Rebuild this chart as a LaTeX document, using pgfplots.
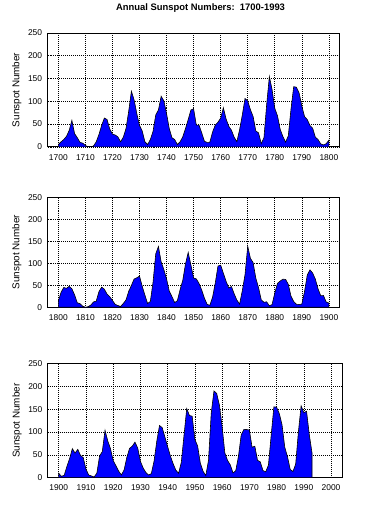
\documentclass[border=0pt]{standalone}
\usepackage{pgfplots}
\pgfplotsset{compat=1.18}
\usepackage{pgfplotstable}
\usepackage{fontspec}
\setmainfont{Liberation Sans}

% yearly sunspot numbers, split by century
\pgfplotstableread{
year ssn
1700 5.0
1701 11.0
1702 16.0
1703 23.0
1704 36.0
1705 58.0
1706 29.0
1707 20.0
1708 10.0
1709 8.0
1710 3.0
1711 0.0
1712 0.0
1713 2.0
1714 11.0
1715 27.0
1716 47.0
1717 63.0
1718 60.0
1719 39.0
1720 28.0
1721 26.0
1722 22.0
1723 11.0
1724 21.0
1725 40.0
1726 78.0
1727 122.0
1728 103.0
1729 73.0
1730 47.0
1731 35.0
1732 11.0
1733 5.0
1734 16.0
1735 34.0
1736 70.0
1737 81.0
1738 111.0
1739 101.0
1740 73.0
1741 40.0
1742 20.0
1743 16.0
1744 5.0
1745 11.0
1746 22.0
1747 40.0
1748 60.0
1749 80.9
1750 83.4
1751 47.7
1752 47.8
1753 30.7
1754 12.2
1755 9.6
1756 10.2
1757 32.4
1758 47.6
1759 54.0
1760 62.9
1761 85.9
1762 61.2
1763 45.1
1764 36.4
1765 20.9
1766 11.4
1767 37.8
1768 69.8
1769 106.1
1770 100.8
1771 81.6
1772 66.5
1773 34.8
1774 30.6
1775 7.0
1776 19.8
1777 92.5
1778 154.4
1779 125.9
1780 84.8
1781 68.1
1782 38.5
1783 22.8
1784 10.2
1785 24.1
1786 82.9
1787 132.0
1788 130.9
1789 118.1
1790 89.9
1791 66.6
1792 60.0
1793 46.9
1794 41.0
1795 21.3
1796 16.0
1797 6.4
1798 4.1
1799 6.8
1800 14.5
}\sunA

\pgfplotstableread{
year ssn
1800 14.5
1801 34.0
1802 45.0
1803 43.1
1804 47.5
1805 42.2
1806 28.1
1807 10.1
1808 8.1
1809 2.5
1810 0.0
1811 1.4
1812 5.0
1813 12.2
1814 13.9
1815 35.4
1816 45.8
1817 41.1
1818 30.1
1819 23.9
1820 15.6
1821 6.6
1822 4.0
1823 1.8
1824 8.5
1825 16.6
1826 36.3
1827 49.6
1828 64.2
1829 67.0
1830 70.9
1831 47.8
1832 27.5
1833 8.5
1834 13.2
1835 56.9
1836 121.5
1837 138.3
1838 103.2
1839 85.7
1840 64.6
1841 36.7
1842 24.2
1843 10.7
1844 15.0
1845 40.1
1846 61.5
1847 98.5
1848 124.7
1849 96.3
1850 66.6
1851 64.5
1852 54.1
1853 39.0
1854 20.6
1855 6.7
1856 4.3
1857 22.7
1858 54.8
1859 93.8
1860 95.8
1861 77.2
1862 59.1
1863 44.0
1864 47.0
1865 30.5
1866 16.3
1867 7.3
1868 37.6
1869 74.0
1870 139.0
1871 111.2
1872 101.6
1873 66.2
1874 44.7
1875 17.0
1876 11.3
1877 12.4
1878 3.4
1879 6.0
1880 32.3
1881 54.3
1882 59.7
1883 63.7
1884 63.5
1885 52.2
1886 25.4
1887 13.1
1888 6.8
1889 6.3
1890 7.1
1891 35.6
1892 73.0
1893 85.1
1894 78.0
1895 64.0
1896 41.8
1897 26.2
1898 26.7
1899 12.1
1900 9.5
}\sunB

\pgfplotstableread{
year ssn
1900 9.5
1901 2.7
1902 5.0
1903 24.4
1904 42.0
1905 63.5
1906 53.8
1907 62.0
1908 48.5
1909 43.9
1910 18.6
1911 5.7
1912 3.6
1913 1.4
1914 9.6
1915 47.4
1916 57.1
1917 103.9
1918 80.6
1919 63.6
1920 37.6
1921 26.1
1922 14.2
1923 5.8
1924 16.7
1925 44.3
1926 63.9
1927 69.0
1928 77.8
1929 64.9
1930 35.7
1931 21.2
1932 11.1
1933 5.7
1934 8.7
1935 36.1
1936 79.7
1937 114.4
1938 109.6
1939 88.8
1940 67.8
1941 47.5
1942 30.6
1943 16.3
1944 9.6
1945 33.2
1946 92.6
1947 151.6
1948 136.3
1949 134.7
1950 83.9
1951 69.4
1952 31.5
1953 13.9
1954 4.4
1955 38.0
1956 141.7
1957 190.2
1958 184.8
1959 159.0
1960 112.3
1961 53.9
1962 37.6
1963 27.9
1964 10.2
1965 15.1
1966 47.0
1967 93.8
1968 105.9
1969 105.5
1970 104.5
1971 66.6
1972 68.9
1973 38.0
1974 34.5
1975 15.5
1976 12.6
1977 27.5
1978 92.5
1979 155.4
1980 154.6
1981 140.4
1982 115.9
1983 66.6
1984 45.9
1985 17.9
1986 13.4
1987 29.4
1988 100.2
1989 157.6
1990 142.6
1991 145.7
1992 94.3
1993 54.6
}\sunC

\pgfplotsset{
  sun/.style={
    scale only axis,
    width=295pt, height=115pt,
    anchor=south west,
    ymin=0, ymax=250,
    ytick={0,50,...,250},
    xtick distance=10,
    major tick length=0pt,
    grid=major,
    major grid style={black, line width=0.6pt, dash pattern=on 0.7pt off 1.3pt},
    axis line style={black, line width=0.8pt},
    ticklabel style={font=\fontsize{8.5}{10}\selectfont},
    /pgf/number format/assume math mode=true,
    /pgf/number format/1000 sep={},
    yticklabel style={xshift=-2pt},
    xticklabel style={yshift=-4pt},
    ylabel={Sunspot Number},
    ylabel style={font=\fontsize{10}{12}\selectfont, at={(axis description cs:0,0.5)}, anchor=center, yshift=31pt},
  },
  sunarea/.style={fill=blue, draw=black, line width=0.6pt},
}

\begin{document}
\begin{tikzpicture}
\path (0pt,0pt) rectangle (382pt,508pt);

\begin{axis}[sun, at={(48pt,364.7pt)}, xmin=1696, xmax=1804,
  title={\bfseries Annual Sunspot Numbers:\ \ 1700-1993},
  title style={font=\fontsize{9.5}{11}\selectfont, at={(0.5,1)}, anchor=center, yshift=19.5pt, xshift=7pt}]
\addplot[sunarea] table[x=year, y=ssn] {\sunA} \closedcycle;
\end{axis}

\begin{axis}[sun, at={(48pt,202.7pt)}, height=111pt, xmin=1796, xmax=1904]
\addplot[sunarea] table[x=year, y=ssn] {\sunB} \closedcycle;
\end{axis}

\begin{axis}[sun, at={(48.3pt,30.7pt)}, width=297pt, xmin=1896, xmax=2004]
\addplot[sunarea] table[x=year, y=ssn] {\sunC} \closedcycle;
\end{axis}
\end{tikzpicture}
\end{document}
